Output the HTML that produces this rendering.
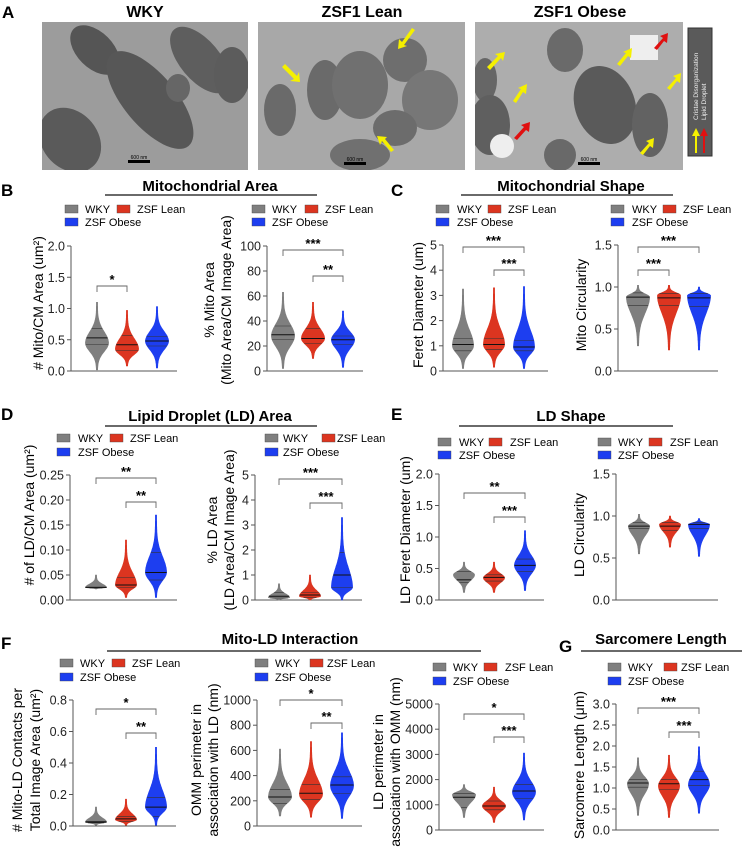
<!DOCTYPE html>
<html><head><meta charset="utf-8"><style>
html,body{margin:0;padding:0;background:#fff}
svg{display:block;font-family:"Liberation Sans",Arial,sans-serif}
</style></head><body>
<svg id="fig" width="742" height="857" viewBox="0 0 742 857" xmlns="http://www.w3.org/2000/svg">
<defs>
<clipPath id="c1"><rect x="42" y="22" width="206" height="148"/></clipPath>
<clipPath id="c2"><rect x="258" y="22" width="207" height="148"/></clipPath>
<clipPath id="c3"><rect x="475" y="22" width="208" height="148"/></clipPath>
</defs>
<g>
<text x="2" y="18" font-size="17" font-weight="bold">A</text>
<text x="145" y="17" font-size="16" font-weight="bold" text-anchor="middle">WKY</text>
<text x="362" y="17" font-size="16" font-weight="bold" text-anchor="middle">ZSF1 Lean</text>
<text x="580" y="17" font-size="16" font-weight="bold" text-anchor="middle">ZSF1 Obese</text>
<g clip-path="url(#c1)">
<rect x="42" y="22" width="206" height="148" fill="#9c9c9c"/>
<ellipse cx="95" cy="50" rx="30" ry="18" transform="rotate(45 95 50)" fill="#555"/>
<ellipse cx="200" cy="60" rx="40" ry="20" transform="rotate(50 200 60)" fill="#5e5e5e"/>
<ellipse cx="150" cy="100" rx="60" ry="26" transform="rotate(50 150 100)" fill="#575757"/>
<ellipse cx="70" cy="140" rx="35" ry="28" transform="rotate(50 70 140)" fill="#5a5a5a"/>
<ellipse cx="178" cy="88" rx="12" ry="14" fill="#666"/>
<ellipse cx="232" cy="75" rx="18" ry="28" fill="#5c5c5c"/>
<rect x="128" y="160" width="22" height="3" fill="#000"/><text x="139" y="159" font-size="5" text-anchor="middle">600 nm</text>
</g>
<g clip-path="url(#c2)">
<rect x="258" y="22" width="207" height="148" fill="#a8a8a8"/>
<ellipse cx="325" cy="90" rx="18" ry="30" fill="#6a6a6a"/>
<ellipse cx="360" cy="85" rx="28" ry="34" fill="#707070"/>
<ellipse cx="405" cy="60" rx="22" ry="22" fill="#6e6e6e"/>
<ellipse cx="430" cy="100" rx="28" ry="30" fill="#777"/>
<ellipse cx="395" cy="128" rx="22" ry="18" fill="#6c6c6c"/>
<ellipse cx="280" cy="110" rx="16" ry="26" fill="#6a6a6a"/>
<ellipse cx="360" cy="155" rx="30" ry="16" fill="#707070"/>
<polygon points="282,67 285,64 297,76 299,72 300,82 290,81 294,79" fill="#f5f000"/>
<polygon points="415,30 412,28 402,42 399,39 398,49 407,46 404,45" fill="#f5f000"/>
<polygon points="394,150 391,152 382,141 380,145 377,136 387,137 385,139" fill="#f5f000"/>
<rect x="344" y="162" width="22" height="3" fill="#000"/><text x="355" y="161" font-size="5" text-anchor="middle">600 nm</text>
</g>
<g clip-path="url(#c3)">
<rect x="475" y="22" width="208" height="148" fill="#adadad"/>
<ellipse cx="485" cy="80" rx="12" ry="22" fill="#666"/>
<ellipse cx="490" cy="125" rx="20" ry="30" fill="#5f5f5f"/>
<ellipse cx="605" cy="105" rx="30" ry="40" transform="rotate(-20 605 105)" fill="#5a5a5a"/>
<ellipse cx="650" cy="125" rx="18" ry="32" fill="#626262"/>
<ellipse cx="565" cy="50" rx="18" ry="22" fill="#6a6a6a"/>
<ellipse cx="560" cy="155" rx="16" ry="16" fill="#696969"/>
<rect x="630" y="35" width="28" height="25" fill="#eee"/>
<circle cx="502" cy="146" r="12" fill="#eee"/>
<polygon points="490,70 487,67 498,56 495,54 505,52 503,61 501,58" fill="#f5f000"/>
<polygon points="516,103 513,101 521,89 518,88 527,84 526,94 523,92" fill="#f5f000"/>
<polygon points="620,66 617,64 626,53 623,52 632,48 631,58 628,56" fill="#f5f000"/>
<polygon points="670,90 667,88 676,78 673,76 681,73 680,83 677,81" fill="#f5f000"/>
<polygon points="643,155 640,153 649,143 646,141 654,138 653,148 650,146" fill="#f5f000"/>
<polygon points="517,140 514,138 524,127 521,125 530,122 529,132 526,130" fill="#e01010"/>
<polygon points="657,50 654,48 663,38 660,36 668,33 667,43 664,41" fill="#e01010"/>
<rect x="578" y="162" width="22" height="3" fill="#000"/><text x="589" y="161" font-size="5" text-anchor="middle">600 nm</text>
</g>
<g>
<rect x="688" y="28" width="24" height="128" fill="#5a5a5a" stroke="#333"/>
<text transform="translate(698,120) rotate(-90)" font-size="6.5" fill="#eee">Cristae Disorganization</text>
<text transform="translate(706,120) rotate(-90)" font-size="6.5" fill="#eee">Lipid Droplet</text>
<polygon points="695,153 697,153 697,136 700,136 696,128 692,136 695,136" fill="#f5f000"/>
<polygon points="703,153 705,153 705,136 708,136 704,128 700,136 703,136" fill="#e01010"/>
</g>
</g>
<g id="charts"></g>
</svg>
<script>
const groups=['WKY','ZSF Lean','ZSF Obese'];
const colors=['#7f7f7f','#dc3520','#1d3ef0'];
// B1
const b1Ticks=['0.0','0.5','1.0','1.5','2.0'];
const b1Min=[0.02,0.08,0.05],b1Q1=[0.42,0.33,0.40],b1Med=[0.53,0.42,0.48],b1Q3=[0.68,0.57,0.55],b1Max=[1.1,0.97,1.03],b1Peak=[0.45,0.35,0.48];
// B2
const b2Ticks=['0','20','40','60','80','100'];
const b2Min=[2,10,3],b2Q1=[25,22,21],b2Med=[29,26,25],b2Q3=[36,34,28],b2Max=[63,55,48],b2Peak=[28,26,25];
// C1
const c1Ticks=['0','1','2','3','4','5'];
const c1Min=[0.1,0.15,0.1],c1Q1=[0.8,0.85,0.8],c1Med=[1.05,1.05,0.95],c1Q3=[1.3,1.3,1.2],c1Max=[3.25,3.3,3.35],c1Peak=[1.0,1.05,0.95];
// C2
const c2Ticks=['0.0','0.5','1.0','1.5'];
const c2Min=[0.3,0.25,0.25],c2Q1=[0.78,0.78,0.77],c2Med=[0.88,0.87,0.87],c2Q3=[0.93,0.92,0.92],c2Max=[1.02,1.02,1.0],c2Peak=[0.88,0.9,0.9];
// D1
const d1Ticks=['0.00','0.05','0.10','0.15','0.20','0.25'];
const d1Min=[0.022,0.005,0.005],d1Q1=[0.024,0.025,0.04],d1Med=[0.025,0.03,0.055],d1Q3=[0.026,0.045,0.095],d1Max=[0.05,0.12,0.17],d1Peak=[0.025,0.03,0.055];
// D2
const d2Ticks=['0','1','2','3','4','5'];
const d2Min=[0,0,0],d2Q1=[0.08,0.1,0.5],d2Med=[0.15,0.2,1.0],d2Q3=[0.3,0.3,1.9],d2Max=[0.65,1.0,3.3],d2Peak=[0.1,0.15,0.5];
// E1
const e1Ticks=['0.0','0.5','1.0','1.5','2.0'];
const e1Min=[0.12,0.12,0.15],e1Q1=[0.28,0.3,0.45],e1Med=[0.32,0.36,0.55],e1Q3=[0.45,0.4,0.65],e1Max=[0.6,0.6,1.1],e1Peak=[0.4,0.35,0.55];
// E2
const e2Ticks=['0.0','0.5','1.0','1.5'];
const e2Min=[0.55,0.63,0.52],e2Q1=[0.85,0.83,0.85],e2Med=[0.88,0.88,0.9],e2Q3=[0.92,0.92,0.92],e2Max=[1.02,1.0,0.97],e2Peak=[0.88,0.9,0.9];
// F1
const f1Ticks=['0.0','0.2','0.4','0.6','0.8'];
const f1Min=[0.005,0.005,0.005],f1Q1=[0.02,0.03,0.06],f1Med=[0.025,0.045,0.12],f1Q3=[0.03,0.06,0.18],f1Max=[0.12,0.17,0.5],f1Peak=[0.025,0.04,0.12];
// F2
const f2Ticks=['0','200','400','600','800','1000'];
const f2Min=[80,70,60],f2Q1=[180,210,260],f2Med=[230,260,325],f2Q3=[290,330,390],f2Max=[610,670,740],f2Peak=[230,250,320];
// F3
const f3Ticks=['0','1000','2000','3000','4000','5000'];
const f3Min=[500,300,400],f3Q1=[900,800,1250],f3Med=[1300,950,1550],f3Q3=[1450,1150,1800],f3Max=[1800,1700,3050],f3Peak=[1400,950,1500];
// G
const gTicks=['0.0','0.5','1.0','1.5','2.0','2.5','3.0'];
const gMin=[0.35,0.3,0.4],gQ1=[1.02,0.97,1.06],gMed=[1.12,1.1,1.2],gQ3=[1.2,1.2,1.4],gMax=[1.72,1.78,1.98],gPeak=[1.1,1.05,1.08];

const NS='http://www.w3.org/2000/svg';
const root=document.getElementById('charts');
function mk(tag,attrs,parent,txt){const e=document.createElementNS(NS,tag);for(const k in attrs)e.setAttribute(k,attrs[k]);if(txt!==undefined)e.textContent=txt;(parent||root).appendChild(e);return e;}

function panel(name,L,ticks,mins,q1s,meds,q3s,maxs,peaks,brackets){
  const g=mk('g',{});
  
  
  const vmax=parseFloat(ticks[ticks.length-1]);
  const y=v=>L.yb-(v/vmax)*(L.yb-L.yt);
  const lg=mk('g',{},g);
  
  
  const lpos=[[L.sw1,L.r1,L.t1],[L.sw2,L.r1,L.t2],[L.sw1,L.r2,L.t1]];
  groups.forEach((gr,i)=>{
    const it=mk('g',{},lg);
    
    
    mk('rect',{x:lpos[i][0],y:lpos[i][1]-4,width:13,height:8,fill:colors[i],stroke:'#444','stroke-width':0.4},it);
    mk('text',{x:lpos[i][2],y:lpos[i][1]+4,'font-size':11},it,gr);
  });
  const ax=mk('g',{},g);
  
  
  mk('line',{x1:L.x,y1:L.yt,x2:L.x,y2:L.yb,stroke:'#555','stroke-width':1},ax);
  mk('line',{x1:L.x,y1:L.yb,x2:L.xr,y2:L.yb,stroke:'#555','stroke-width':1},ax);
  ticks.forEach(t=>{
    const yy=y(parseFloat(t));
    mk('line',{x1:L.x-4,y1:yy,x2:L.x,y2:yy,stroke:'#555'},ax);
    const tl=mk('text',{x:L.x-6,y:yy+4.5,'font-size':12.5,'text-anchor':'end',fill:'#222'},ax,t);
    
    
  });
  L.ytitle.forEach((s,i)=>{
    const tt=mk('text',{transform:`translate(${L.ytx[i]},${L.ytc}) rotate(-90)`,'font-size':14,'text-anchor':'middle'},g,s);
    
    
  });
  const W=L.w;
  groups.forEach((gr,i)=>{
    const cx=L.cx[i];
    const vg=mk('g',{},g);
    
    
    const mn=mins[i],mx=maxs[i],pk=peaks[i];
    const sb=Math.max((pk-mn)/2.2,1e-9),sa=Math.max((mx-pk)/2.6,1e-9);
    const hw=v=>{const s=v<pk?sb:sa;return W*Math.exp(-Math.pow((v-pk)/s,2))+0.6;};
    const N=60,R=[],Lp=[];
    for(let k=0;k<=N;k++){const v=mn+(mx-mn)*k/N;R.push([cx+hw(v),y(v)]);Lp.push([cx-hw(v),y(v)]);}
    let d='M'+cx+','+y(mn)+' ';
    R.forEach(p=>d+='L'+p[0].toFixed(1)+','+p[1].toFixed(1)+' ');
    d+='L'+cx+','+y(mx)+' ';
    Lp.reverse().forEach(p=>d+='L'+p[0].toFixed(1)+','+p[1].toFixed(1)+' ');
    d+='Z';
    mk('path',{d:d,fill:colors[i],stroke:colors[i],'stroke-width':0.6},vg);
    [[q1s[i],'#333',0.6],[meds[i],'#111',1],[q3s[i],'#333',0.6]].forEach(q=>{
      const w=hw(q[0]);
      mk('line',{x1:cx-w,y1:y(q[0]),x2:cx+w,y2:y(q[0]),stroke:q[1],'stroke-width':q[2]},vg);
    });
  });
  brackets.forEach(b=>{
    const bg=mk('g',{},g);
    
    
    const x1=L.cx[b[0]],x2=L.cx[b[1]];
    mk('path',{d:`M${x1},${b[2]+6} V${b[2]} H${x2} V${b[2]+6}`,fill:'none',stroke:'#666','stroke-width':0.9},bg);
    mk('text',{x:(x1+x2)/2,y:b[2]-2,'font-size':13,'font-weight':'bold','text-anchor':'middle'},bg,b[3]);
  });
}
function header(name,label,lx,ly,title,tx,ty,ux1,ux2,uy){
  const g=mk('g',{});
  
  
  mk('text',{x:lx,y:ly,'font-size':17,'font-weight':'bold'},g,label);
  mk('text',{x:tx,y:ty,'font-size':15,'font-weight':'bold','text-anchor':'middle'},g,title);
  mk('line',{x1:ux1,y1:uy,x2:ux2,y2:uy,stroke:'#111','stroke-width':1.2},g);
}
header('header-b','B',1,196,'Mitochondrial Area',210,191,105,317,195);
header('header-c','C',391,196,'Mitochondrial Shape',571,191,461,673,195);
header('header-d','D',1,420,'Lipid Droplet (LD) Area',210,421,105,317,426);
header('header-e','E',391,420,'LD Shape',571,421,459,673,426);
header('header-f','F',1,649,'Mito-LD Interaction',290,644,107,481,651);
header('header-g','G',559,652,'Sarcomere Length',661,644,581,742,651);

panel('chart-b1-mito-count',{x:71,xr:177,yt:246,yb:371,cx:[97,127,157],w:11,sw1:65,sw2:117,t1:85,t2:137,r1:209,r2:222,ytitle:['# Mito/CM Area (um²)'],ytx:[43],ytc:303},b1Ticks,b1Min,b1Q1,b1Med,b1Q3,b1Max,b1Peak,[[0,1,286,'*']]);
panel('chart-b2-mito-area',{x:267,xr:363,yt:246,yb:371,cx:[283,313,343],w:11,sw1:252,sw2:305,t1:272,t2:325,r1:209,r2:222,ytitle:['% Mito Area','(Mito Area/CM Image Area)'],ytx:[214,231],ytc:300},b2Ticks,b2Min,b2Q1,b2Med,b2Q3,b2Max,b2Peak,[[0,2,250,'***'],[1,2,276,'**']]);
panel('chart-c1-feret',{x:443,xr:548,yt:245,yb:371,cx:[463,494,524],w:10,sw1:436,sw2:488,t1:457,t2:508,r1:209,r2:222,ytitle:['Feret Diameter (um)'],ytx:[423],ytc:305},c1Ticks,c1Min,c1Q1,c1Med,c1Q3,c1Max,c1Peak,[[0,2,247,'***'],[1,2,270,'***']]);
panel('chart-c2-circularity',{x:618,xr:718,yt:245,yb:371,cx:[638,669,699],w:11,sw1:611,sw2:663,t1:632,t2:683,r1:209,r2:222,ytitle:['Mito Circularity'],ytx:[586],ytc:305},c2Ticks,c2Min,c2Q1,c2Med,c2Q3,c2Max,c2Peak,[[0,2,247,'***'],[0,1,270,'***']]);
panel('chart-d1-ld-count',{x:70,xr:177,yt:475,yb:600,cx:[96,126,156],w:10,sw1:57,sw2:110,t1:78,t2:130,r1:438,r2:452,ytitle:['# of LD/CM Area (um²)'],ytx:[34],ytc:515},d1Ticks,d1Min,d1Q1,d1Med,d1Q3,d1Max,d1Peak,[[0,2,478,'**'],[1,2,502,'**']]);
panel('chart-d2-ld-area',{x:255,xr:362,yt:475,yb:600,cx:[279,310,342],w:10,sw1:265,sw2:322,t1:283,t2:337,r1:438,r2:452,ytitle:['% LD Area','(LD Area/CM Image Area)'],ytx:[217,234],ytc:530},d2Ticks,d2Min,d2Q1,d2Med,d2Q3,d2Max,d2Peak,[[0,2,479,'***'],[1,2,503,'***']]);
panel('chart-e1-ld-feret',{x:439,xr:544,yt:474,yb:600,cx:[464,494,525],w:10,sw1:438,sw2:489,t1:459,t2:510,r1:442,r2:455,ytitle:['LD Feret Diameter  (um)'],ytx:[410],ytc:530},e1Ticks,e1Min,e1Q1,e1Med,e1Q3,e1Max,e1Peak,[[0,2,493,'**'],[1,2,517,'***']]);
panel('chart-e2-ld-circularity',{x:616,xr:718,yt:474,yb:600,cx:[639,670,699],w:10,sw1:598,sw2:649,t1:618,t2:670,r1:442,r2:455,ytitle:['LD Circularity'],ytx:[584],ytc:535},e2Ticks,e2Min,e2Q1,e2Med,e2Q3,e2Max,e2Peak,[]);
panel('chart-f1-contacts',{x:73,xr:176,yt:700,yb:826,cx:[96,126,156],w:10,sw1:60,sw2:112,t1:80,t2:132,r1:663,r2:677,ytitle:['# Mito-LD Contacts per','Total Image Area (um²)'],ytx:[22,40],ytc:760},f1Ticks,f1Min,f1Q1,f1Med,f1Q3,f1Max,f1Peak,[[0,2,709,'*'],[1,2,733,'**']]);
panel('chart-f2-omm-perimeter',{x:257,xr:362,yt:700,yb:826,cx:[280,311,342],w:11,sw1:255,sw2:310,t1:275,t2:327,r1:663,r2:677,ytitle:['OMM perimeter in','association with LD (nm)'],ytx:[201,218],ytc:760},f2Ticks,f2Min,f2Q1,f2Med,f2Q3,f2Max,f2Peak,[[0,2,700,'*'],[1,2,723,'**']]);
panel('chart-f3-ld-perimeter',{x:439,xr:544,yt:704,yb:830,cx:[464,494,524],w:11,sw1:433,sw2:484,t1:453,t2:505,r1:667,r2:681,ytitle:['LD perimeter in','association with OMM (nm)'],ytx:[383,400],ytc:762},f3Ticks,f3Min,f3Q1,f3Med,f3Q3,f3Max,f3Peak,[[0,2,714,'*'],[1,2,737,'***']]);
panel('chart-g-sarcomere',{x:616,xr:719,yt:704,yb:830,cx:[638,669,699],w:10,sw1:608,sw2:664,t1:628,t2:681,r1:667,r2:681,ytitle:['Sarcomere Length (μm)'],ytx:[584],ytc:765},gTicks,gMin,gQ1,gMed,gQ3,gMax,gPeak,[[0,2,708,'***'],[1,2,732,'***']]);
</script>
</body></html>
